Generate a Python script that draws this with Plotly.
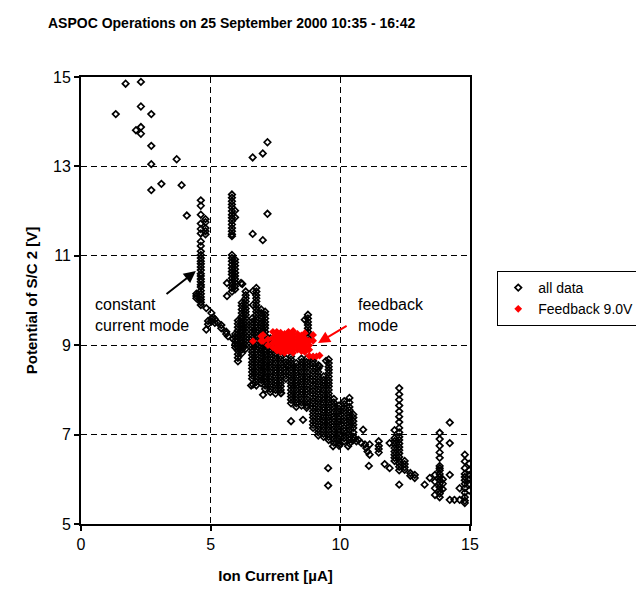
import plotly.graph_objects as go

# ---------------- data ----------------
# vertical "stacks" of samples of the all-data series: one x, many y
stack_x = [4.62, 4.80, 5.82, 5.82, 5.94, 5.95, 6.05, 6.20, 6.35, 6.60, 6.76, 6.95, 7.10,
           7.30, 7.50, 7.70, 7.90, 8.10, 8.30, 8.50, 8.75, 8.70, 8.95, 9.15, 9.35, 9.55,
           9.75, 9.95, 10.15, 10.35, 10.50, 12.09, 12.27, 12.48, 13.65, 13.83, 13.95, 14.80, 14.97]
stack_y = [
    [12.24, 12.12, 11.92, 11.72, 11.6, 11.5, 11.32, 11.22, 11.1, 11.02, 10.95, 10.88, 10.82, 10.75,
     10.68, 10.6, 10.55, 10.48, 10.42, 10.35, 10.3, 10.22, 10.15, 10.08, 10.02, 9.96, 9.9],
    [11.82, 11.75, 11.62, 11.55, 11.48],
    [12.37, 12.3, 12.22, 12.15, 12.08, 12.0, 11.92, 11.85, 11.78, 11.7, 11.62, 11.55, 11.48, 11.44],
    [11.02, 10.95, 10.88, 10.8, 10.72, 10.65, 10.58, 10.5, 10.42, 10.35, 10.28, 10.2],
    [10.92, 10.85, 10.78, 10.7, 10.62, 10.55, 10.48, 10.4, 10.32, 10.25],
    [9.25, 9.18, 9.1, 9.02, 8.95],
    [9.55, 9.48, 9.4, 9.33, 9.25, 9.18, 9.1, 9.02, 8.95, 8.88, 8.8, 8.72, 8.64],
    [9.95, 9.88, 9.8, 9.72, 9.65, 9.58, 9.5, 9.42, 9.35, 9.28, 9.2, 9.12, 9.05, 8.98, 8.9, 8.82],
    [10.2, 10.12, 10.05, 9.98, 9.9, 9.82, 9.75, 9.68, 9.6, 9.52, 9.45, 9.38, 9.3, 9.22, 9.15, 9.08,
     9.0, 8.92],
    [9.6, 9.52, 9.45, 9.38, 9.3, 9.22, 9.15, 9.08, 9.0, 8.92, 8.85, 8.78, 8.7, 8.62, 8.55, 8.48,
     8.4, 8.32, 8.25],
    [10.28, 10.2, 10.12, 10.05, 9.98, 9.9, 9.82, 9.75, 9.68, 9.6, 9.52, 9.45, 9.38, 9.3, 9.22, 9.15,
     9.08, 9.0, 8.92, 8.85, 8.78, 8.7, 8.62, 8.55, 8.48, 8.4, 8.32, 8.25, 8.18, 8.1],
    [9.8, 9.72, 9.65, 9.58, 9.5, 9.42, 9.35, 9.28, 9.2, 9.12, 9.05, 8.98, 8.9, 8.82, 8.75, 8.68,
     8.6, 8.52, 8.45, 8.38, 8.3, 8.22, 8.15],
    [9.75, 9.68, 9.6, 9.52, 9.45, 9.38, 9.3, 9.22, 9.15, 9.08, 9.0, 8.92, 8.85, 8.78, 8.7, 8.62,
     8.55, 8.48, 8.4, 8.32, 8.25, 8.18, 8.1, 8.02],
    [9.15, 9.08, 9.0, 8.92, 8.85, 8.78, 8.7, 8.62, 8.55, 8.48, 8.4, 8.32, 8.25, 8.18, 8.1, 8.02, 7.95],
    [8.9, 8.82, 8.75, 8.68, 8.6, 8.52, 8.45, 8.38, 8.3, 8.22, 8.15, 8.08, 8.0, 7.92],
    [8.75, 8.68, 8.6, 8.52, 8.45, 8.38, 8.3, 8.22, 8.15, 8.08, 8.0, 7.93],
    [8.7, 8.62, 8.55, 8.48, 8.4, 8.32, 8.25],
    [8.75, 8.68, 8.6, 8.52, 8.45, 8.38, 8.3, 8.22, 8.15, 8.08, 8.0, 7.92, 7.85, 7.78, 7.7],
    [8.6, 8.52, 8.45, 8.38, 8.3, 8.22, 8.15, 8.08, 8.0, 7.92, 7.85, 7.78, 7.7, 7.62],
    [8.7, 8.62, 8.55, 8.48, 8.4, 8.32, 8.25, 8.18, 8.1, 8.02, 7.95, 7.88, 7.8, 7.72, 7.65],
    [9.68, 9.6, 9.52, 9.45, 9.38, 9.3, 9.22, 9.16],
    [8.7, 8.62, 8.55, 8.48, 8.4, 8.32, 8.25, 8.18, 8.1, 8.02, 7.95, 7.88, 7.8, 7.72, 7.65, 7.6],
    [8.72, 8.65, 8.58, 8.5, 8.42, 8.35, 8.28, 8.2, 8.12, 8.05, 7.98, 7.9, 7.82, 7.75, 7.68, 7.6,
     7.52, 7.45, 7.38, 7.3, 7.22, 7.15],
    [8.55, 8.48, 8.4, 8.32, 8.25, 8.18, 8.1, 8.02, 7.95, 7.88, 7.8, 7.72, 7.65, 7.58, 7.5, 7.42,
     7.35, 7.28, 7.2, 7.12, 7.05, 6.98],
    [8.3, 8.22, 8.15, 8.08, 8.0, 7.92, 7.85, 7.78, 7.7, 7.62, 7.55, 7.48, 7.4, 7.32, 7.25, 7.18,
     7.1, 7.02, 6.95],
    [8.68, 8.6, 8.52, 8.45, 8.38, 8.3, 8.22, 8.15, 8.08, 8.0, 7.92, 7.85, 7.78, 7.7, 7.62, 7.55,
     7.48, 7.4, 7.32, 7.25, 7.18, 7.1, 7.02, 6.95, 6.88],
    [7.8, 7.72, 7.65, 7.58, 7.5, 7.42, 7.35, 7.28, 7.2, 7.12, 7.05, 6.98, 6.9, 6.82],
    [7.65, 7.58, 7.5, 7.42, 7.35, 7.28, 7.2, 7.12, 7.05, 6.98, 6.9, 6.82, 6.75],
    [7.75, 7.68, 7.6, 7.52, 7.45, 7.38, 7.3, 7.22, 7.15, 7.08, 7.0, 6.92, 6.85],
    [7.82, 7.72, 7.62, 7.55, 7.48, 7.4, 7.32, 7.25, 7.18, 7.1, 7.02, 6.95, 6.88, 6.8],
    [7.45, 7.38, 7.3, 7.22, 7.15, 7.05, 6.95, 6.88],
    [7.1, 6.92, 6.85, 6.78, 6.7, 6.62, 6.55, 6.48, 6.41],
    [8.04, 7.9, 7.78, 7.65, 7.52, 7.4, 7.28, 7.15, 7.05, 6.95, 6.88, 6.8, 6.72, 6.65, 6.58, 6.5,
     6.42, 6.35, 6.28, 6.2, 5.88],
    [6.41, 6.34, 6.27, 6.21],
    [6.1, 5.95, 5.8, 5.65],
    [7.04, 6.9, 6.75, 6.6, 6.48, 6.3, 6.25, 6.2, 6.12, 6.05, 5.98, 5.9, 5.82, 5.75, 5.68, 5.6],
    [6.0, 5.9, 5.78],
    [6.55, 6.4, 6.25, 6.12, 6.05, 5.98, 5.9, 5.8, 5.7, 5.6, 5.52, 5.47],
    [6.35, 6.2, 6.1, 6.0, 5.9, 5.75],
]

# isolated samples of the all-data series
sparse_x = [1.72, 2.31, 1.34, 2.31, 2.71, 2.12, 2.31, 2.31, 2.71, 2.71, 3.69, 3.10, 3.88, 2.71, 4.08,
            6.62, 7.01, 7.19, 7.19, 6.62, 7.01,
            4.45, 4.45, 4.45, 4.83, 4.83, 4.90, 4.90, 5.03, 5.03, 5.03, 5.10, 5.16, 5.16, 5.28, 5.41,
            5.41, 5.60, 5.60, 5.67, 5.86,
            5.94, 5.94, 5.63, 5.63, 6.22, 6.17, 6.63, 6.63,
            6.56, 6.63, 7.02, 7.72, 7.98, 8.10, 8.56, 8.63, 9.20, 9.45,
            9.53, 9.53, 9.72, 9.98, 10.30, 10.56, 10.62, 10.70, 10.81, 10.88, 10.95, 11.00, 11.05,
            11.13, 11.10, 11.13,
            11.48, 11.48, 11.48, 11.48, 11.71, 11.90, 11.90, 12.70, 12.70, 12.87, 12.87, 13.25, 13.45,
            14.22, 14.22, 14.22, 14.22, 14.40, 14.60, 14.60]
sparse_y = [14.85, 14.89, 14.17, 14.34, 14.17, 13.81, 13.88, 13.73, 13.46, 13.05, 13.16, 12.61, 12.58,
            12.47, 11.90,
            13.20, 13.29, 13.54, 11.94, 11.49, 11.35,
            10.15, 10.10, 10.05, 9.83, 9.35, 9.54, 9.47, 9.72, 9.60, 9.53, 9.62, 9.58, 9.50, 9.50, 9.45,
            9.38, 9.30, 9.25, 9.20, 9.14,
            12.01, 11.86, 10.39, 10.10, 10.37, 10.39, 10.21, 9.90,
            8.10, 8.12, 7.89, 7.93, 8.53, 7.30, 7.33, 9.57, 8.53, 8.65,
            6.25, 5.86, 6.74, 6.78, 6.74, 6.92, 6.85, 6.88, 6.81, 7.11, 6.78, 6.70, 6.62,
            6.55, 6.30, 6.78,
            6.85, 6.75, 6.68, 6.60, 6.34, 6.25, 6.81, 6.14, 6.08, 6.10, 6.03, 5.88, 6.03,
            7.27, 6.81, 6.10, 5.54, 5.54, 5.54, 5.80]

# feedback 9.0 V samples, also as stacks
red_stack_x = [6.63, 6.95, 7.02, 7.21, 7.40, 7.55, 7.70, 7.85, 8.00, 8.18, 8.35, 8.50, 8.63, 8.80,
               8.95, 9.08, 9.20]
red_stack_y = [
    [9.09],
    [9.2, 9.1],
    [9.23, 9.09],
    [9.13, 9.0],
    [9.3, 9.16, 9.05, 8.95],
    [9.3, 9.23, 9.16, 9.09, 9.02, 8.95, 8.88],
    [9.28, 9.2, 9.13, 9.06, 8.99, 8.92, 8.85],
    [9.25, 9.18, 9.11, 9.04, 8.97, 8.9, 8.83],
    [9.3, 9.22, 9.15, 9.08, 9.01, 8.94, 8.87],
    [9.32, 9.25, 9.18, 9.11, 9.04, 8.97, 8.9, 8.83],
    [9.25, 9.18, 9.11, 9.04, 8.97, 8.9],
    [9.22, 9.15, 9.08, 9.01, 8.94, 8.87],
    [9.27, 9.15, 9.05, 8.95, 8.85],
    [9.1, 9.0, 8.9, 8.76],
    [9.23, 9.1, 8.75],
    [8.75],
    [8.77],
]

x_ticks = [0, 5, 10, 15]
y_ticks = [5, 7, 9, 11, 13, 15]

# ---------------- flatten ----------------
all_x = [x for x, ys in zip(stack_x, stack_y) for _ in ys] + sparse_x
all_y = [y for ys in stack_y for y in ys] + sparse_y
red_x = [x for x, ys in zip(red_stack_x, red_stack_y) for _ in ys]
red_y = [y for ys in red_stack_y for y in ys]

FONT = "Liberation Sans, Arial, sans-serif"

fig = go.Figure()
fig.add_trace(go.Scatter(
    x=all_x, y=all_y, mode="markers", name="all data",
    marker=dict(symbol="diamond-open", size=5, color="black", line=dict(width=1.7, color="black")),
))
fig.add_trace(go.Scatter(
    x=red_x, y=red_y, mode="markers", name="Feedback 9.0V",
    marker=dict(symbol="diamond", size=6, color="#FF0000", line=dict(width=0)),
))

# arrows
fig.add_annotation(x=4.43, y=10.66, ax=3.24, ay=10.12, xref="x", yref="y", axref="x", ayref="y",
                   text="", showarrow=True, arrowhead=2, arrowsize=1.2, arrowwidth=2, arrowcolor="black")
fig.add_annotation(x=9.14, y=9.05, ax=10.3, ay=9.45, xref="x", yref="y", axref="x", ayref="y",
                   text="", showarrow=True, arrowhead=2, arrowsize=1.2, arrowwidth=2, arrowcolor="#FF0000")
# labels
fig.add_annotation(x=0.46, y=9.68, xref="x", yref="y", xanchor="left", yanchor="middle", align="left",
                   text="constant<br>current mode", showarrow=False,
                   font=dict(family=FONT, size=16, color="black"))
fig.add_annotation(x=10.6, y=9.68, xref="x", yref="y", xanchor="left", yanchor="middle", align="left",
                   text="feedback<br>mode", showarrow=False,
                   font=dict(family=FONT, size=16, color="black"))

axis_common = dict(
    showline=True, linecolor="black", linewidth=2, mirror=True,
    showgrid=True, gridcolor="black", gridwidth=1, griddash="6px,4px",
    zeroline=False, ticks="outside", ticklen=5, tickwidth=1.5, tickcolor="black",
    tickfont=dict(family=FONT, size=16, color="black"), automargin=False,
)

fig.update_layout(
    width=644, height=590,
    margin=dict(l=73, r=182, t=69, b=74, autoexpand=False),
    paper_bgcolor="white", plot_bgcolor="white",
    font=dict(family=FONT, color="black"),
    title=dict(text="<b>ASPOC Operations on 25 September 2000 10:35 - 16:42</b>",
               x=40 / 644, xanchor="left", xref="container",
               y=1 - 15 / 590, yanchor="middle", yref="container",
               font=dict(family=FONT, size=14, color="black")),
    xaxis=dict(range=[0, 15], tickvals=x_ticks,
               title=dict(text="<b>Ion Current [µA]</b>", standoff=18,
                          font=dict(family=FONT, size=15, color="black")),
               **axis_common),
    yaxis=dict(range=[5, 15], tickvals=y_ticks,
               title=dict(text="<b>Potential of S/C 2 [V]</b>", standoff=12,
                          font=dict(family=FONT, size=15, color="black")),
               **axis_common),
    legend=dict(x=1.07, y=0.566, xanchor="left", yanchor="top",
                bordercolor="black", borderwidth=1, bgcolor="white",
                font=dict(family=FONT, size=14, color="black"),
                itemsizing="trace", itemwidth=30, tracegroupgap=2),
    showlegend=True,
)

fig.write_html("out.html")
